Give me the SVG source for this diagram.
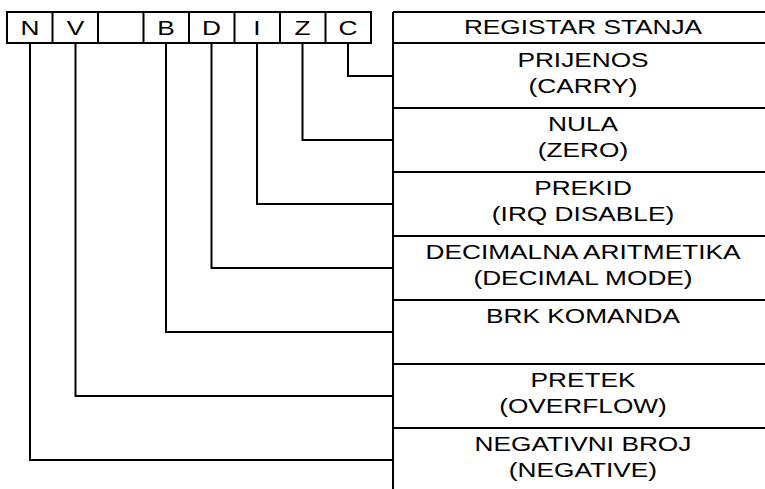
<svg xmlns="http://www.w3.org/2000/svg" width="765" height="489" viewBox="0 0 765 489">
  <style>
    .ln { stroke: #000; stroke-width: 2; fill: none; }
    .box { stroke: #000; stroke-width: 2; fill: #fff; }
    .t { font-family: "Liberation Sans", Arial, sans-serif; font-size: 21px; fill: #000; text-anchor: middle; }
  </style>
  <rect width="765" height="489" fill="#fff"/>

  <!-- status register bit cells -->
  <g id="register">
    <rect class="box" x="7" y="12" width="364" height="31"/>
    <path class="ln" d="M52.5 12V43M98 12V43M143.5 12V43M189 12V43M234.5 12V43M280 12V43M325.5 12V43"/>
    <g id="bit-N"><text class="t" transform="translate(30 34.5) scale(1.25 1)">N</text></g>
    <g id="bit-V"><text class="t" transform="translate(75.5 34.5) scale(1.25 1)">V</text></g>
    <g id="bit-B"><text class="t" transform="translate(166 34.5) scale(1.25 1)">B</text></g>
    <g id="bit-D"><text class="t" transform="translate(211.5 34.5) scale(1.25 1)">D</text></g>
    <g id="bit-I"><text class="t" transform="translate(257 34.5) scale(1.25 1)">I</text></g>
    <g id="bit-Z"><text class="t" transform="translate(302.5 34.5) scale(1.25 1)">Z</text></g>
    <g id="bit-C"><text class="t" transform="translate(348 34.5) scale(1.25 1)">C</text></g>
  </g>

  <!-- description column -->
  <g id="table">
    <path class="ln" d="M393 12V489M393 12H765M393 43H765M393 108H765M393 172H765M393 236H765M393 300H765M393 364H765M393 428H765"/>
  </g>
  <g id="title"><text class="t" transform="translate(583 34) scale(1.25 1)">REGISTAR STANJA</text></g>
  <g id="row-carry">
    <text class="t" transform="translate(583 66.7) scale(1.25 1)">PRIJENOS</text>
    <text class="t" transform="translate(583 93) scale(1.25 1)">(CARRY)</text>
  </g>
  <g id="row-zero">
    <text class="t" transform="translate(583 131) scale(1.25 1)">NULA</text>
    <text class="t" transform="translate(583 157) scale(1.25 1)">(ZERO)</text>
  </g>
  <g id="row-irq">
    <text class="t" transform="translate(583 195) scale(1.25 1)">PREKID</text>
    <text class="t" transform="translate(583 221) scale(1.25 1)">(IRQ DISABLE)</text>
  </g>
  <g id="row-decimal">
    <text class="t" transform="translate(583 259) scale(1.25 1)">DECIMALNA ARITMETIKA</text>
    <text class="t" transform="translate(583 285) scale(1.25 1)">(DECIMAL MODE)</text>
  </g>
  <g id="row-brk">
    <text class="t" transform="translate(583 323) scale(1.25 1)">BRK KOMANDA</text>
  </g>
  <g id="row-overflow">
    <text class="t" transform="translate(583 387) scale(1.25 1)">PRETEK</text>
    <text class="t" transform="translate(583 413) scale(1.25 1)">(OVERFLOW)</text>
  </g>
  <g id="row-negative">
    <text class="t" transform="translate(583 451) scale(1.25 1)">NEGATIVNI BROJ</text>
    <text class="t" transform="translate(583 477) scale(1.25 1)">(NEGATIVE)</text>
  </g>

  <!-- bit-to-description connectors -->
  <g id="connectors" class="ln">
    <path d="M348 43V76H393"/>
    <path d="M302.5 43V140H393"/>
    <path d="M257 43V204H393"/>
    <path d="M211.5 43V268H393"/>
    <path d="M166 43V332H393"/>
    <path d="M75.5 43V396H393"/>
    <path d="M30 43V460H393"/>
  </g>
</svg>
